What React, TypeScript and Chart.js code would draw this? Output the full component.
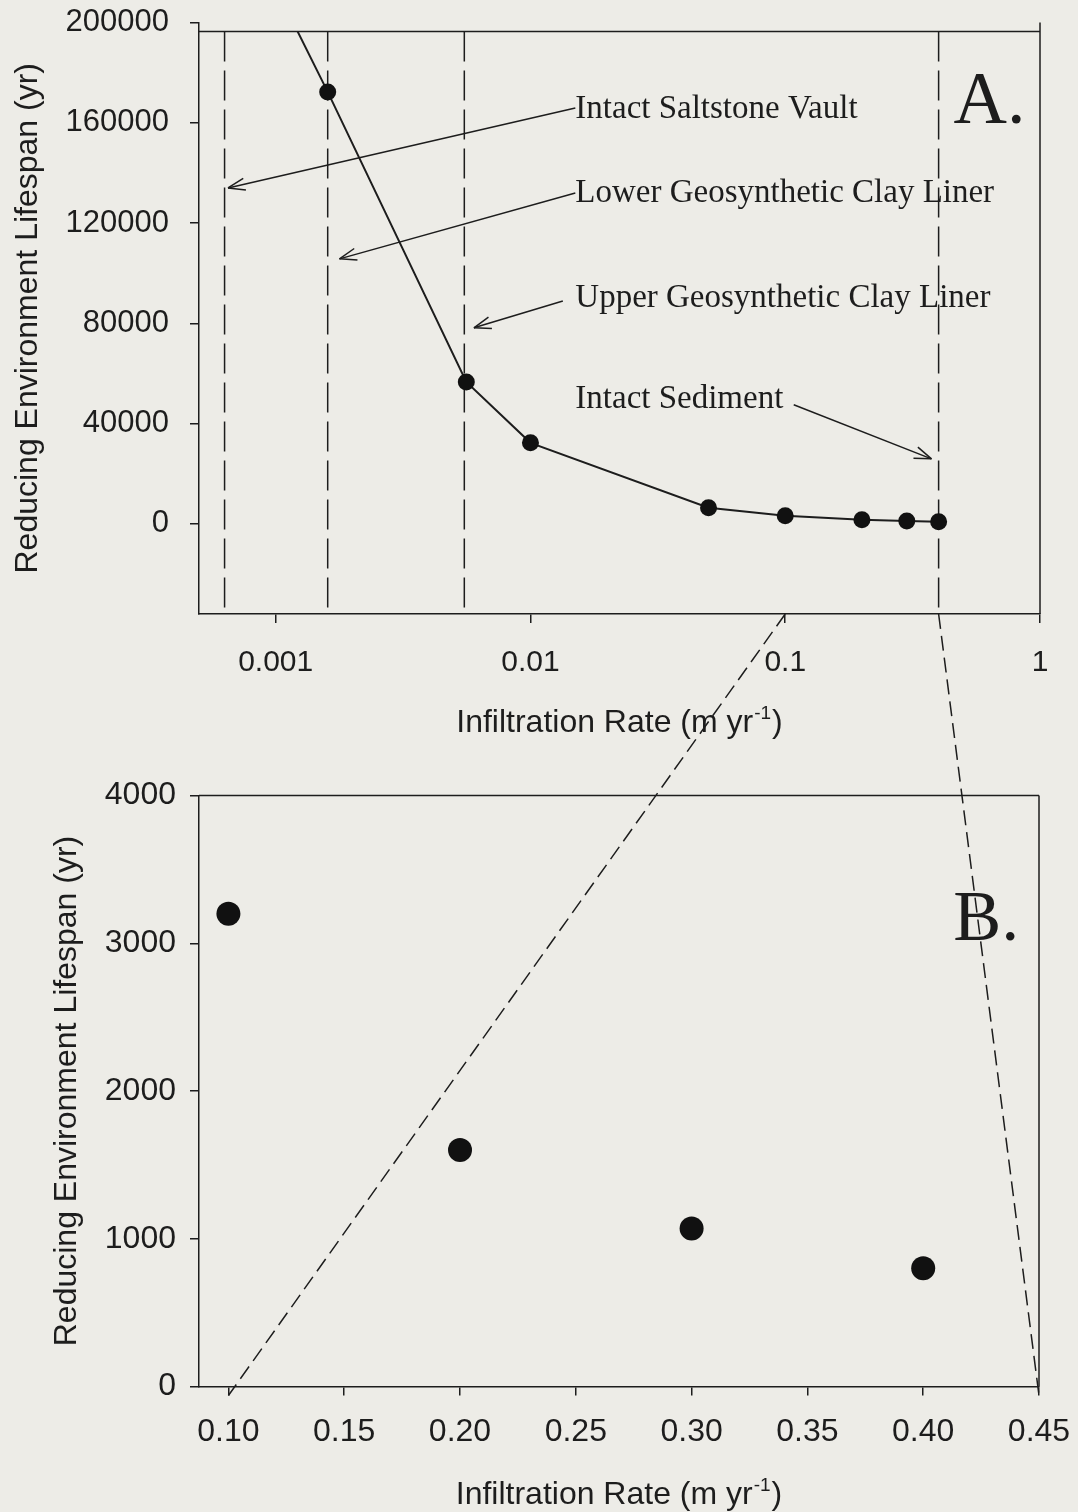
import React, { useEffect, useRef } from "react";
import { Chart, registerables } from "chart.js";

Chart.register(...registerables);

// ---------------- Panel A data (log infiltration axis) ----------------
const A_RATE = [0.00063, 0.0016, 0.0056, 0.01, 0.05, 0.1, 0.2, 0.3, 0.4];
const A_LIFESPAN = [255000, 172300, 56600, 32300, 6400, 3200, 1600, 1070, 800];
const A_X_TICKS = [0.001, 0.01, 0.1, 1];
const A_X_TICK_LABELS = ["0.001", "0.01", "0.1", "1"];
const A_Y_TICKS = [0, 40000, 80000, 120000, 160000, 200000];
const A_Y_TICK_LABELS = ["0", "40000", "80000", "120000", "160000", "200000"];
const A_BARRIER_RATES = [0.00063, 0.0016, 0.0055, 0.4];
const A_FRAME_TOP = 196400;

const A_ANNOT_LABELS = [
  "Intact Saltstone Vault",
  "Lower Geosynthetic Clay Liner",
  "Upper Geosynthetic Clay Liner",
  "Intact Sediment",
];
const A_ANNOT_TEXT_X = [0.015, 0.015, 0.015, 0.015];
const A_ANNOT_TEXT_Y = [161900, 128400, 86500, 46300];
const A_ARROW_TAIL_X = [0.015, 0.015, 0.0134, 0.108];
const A_ARROW_TAIL_Y = [165900, 132000, 88900, 47500];
const A_ARROW_HEAD_X = [0.00065, 0.00178, 0.006, 0.375];
const A_ARROW_HEAD_Y = [134000, 105700, 78200, 25900];
const A_PANEL_LABEL = "A.";
const A_PANEL_LABEL_X = 0.458;
const A_PANEL_LABEL_Y = 160000;

// ---------------- Panel B data (linear infiltration axis) ----------------
const B_RATE = [0.1, 0.2, 0.3, 0.4];
const B_LIFESPAN = [3200, 1600, 1070, 800];
const B_X_TICKS = [0.1, 0.15, 0.2, 0.25, 0.3, 0.35, 0.4, 0.45];
const B_X_TICK_LABELS = ["0.10", "0.15", "0.20", "0.25", "0.30", "0.35", "0.40", "0.45"];
const B_Y_TICKS = [0, 1000, 2000, 3000, 4000];
const B_Y_TICK_LABELS = ["0", "1000", "2000", "3000", "4000"];
const B_PANEL_LABEL = "B.";
const B_PANEL_LABEL_X = 0.413;
const B_PANEL_LABEL_Y = 3020;

// zoom connectors: A x-value -> B x-value
const ZOOM_FROM_A = [0.1, 0.4];
const ZOOM_TO_B = [0.1, 0.45];

const Y_TITLE = "Reducing Environment Lifespan (yr)";
const X_TITLE_MAIN = "Infiltration Rate (m yr";
const X_TITLE_SUP = "-1";
const X_TITLE_END = ")";

// ---------------- styles ----------------
const INK = "#1d1d1d";
const BG = "#edece7";
const SANS = "'Liberation Sans', Arial, Helvetica, sans-serif";
const SERIF = "'Liberation Serif', 'Times New Roman', serif";
const W = 1078;
const A_H = 770;
const B_TOP = 770;
const B_H = 742;
const TICK_LEN = 9;

function line(ctx: any, x1: number, y1: number, x2: number, y2: number) {
  ctx.beginPath();
  ctx.moveTo(x1, y1);
  ctx.lineTo(x2, y2);
  ctx.stroke();
}

function drawXTitle(chart: any, baselineOffset: number) {
  const { ctx, chartArea: ca } = chart;
  ctx.save();
  ctx.fillStyle = INK;
  ctx.textBaseline = "alphabetic";
  ctx.textAlign = "left";
  const mainFont = `32px ${SANS}`;
  const supFont = `19px ${SANS}`;
  ctx.font = mainFont;
  const w1 = ctx.measureText(X_TITLE_MAIN).width;
  const w3 = ctx.measureText(X_TITLE_END).width;
  ctx.font = supFont;
  const w2 = ctx.measureText(X_TITLE_SUP).width;
  const total = w1 + w2 + w3 + 2;
  const cx = (ca.left + ca.right) / 2;
  const y = ca.bottom + baselineOffset;
  let x = cx - total / 2;
  ctx.font = mainFont;
  ctx.fillText(X_TITLE_MAIN, x, y);
  x += w1 + 1;
  ctx.font = supFont;
  ctx.fillText(X_TITLE_SUP, x, y - 13);
  x += w2 + 1;
  ctx.font = mainFont;
  ctx.fillText(X_TITLE_END, x, y);
  ctx.restore();
}

function drawArrow(ctx: any, x1: number, y1: number, x2: number, y2: number) {
  line(ctx, x1, y1, x2, y2);
  const ang = Math.atan2(y2 - y1, x2 - x1);
  const len = 18;
  const spread = 0.34;
  line(ctx, x2, y2, x2 - len * Math.cos(ang - spread), y2 - len * Math.sin(ang - spread));
  line(ctx, x2, y2, x2 - len * Math.cos(ang + spread), y2 - len * Math.sin(ang + spread));
}

const frameA = {
  id: "frameA",
  beforeDatasetsDraw(chart: any) {
    const { ctx, chartArea: ca, scales } = chart;
    const top = scales.y.getPixelForValue(A_FRAME_TOP);
    ctx.save();
    ctx.strokeStyle = INK;
    ctx.lineWidth = 1.5;
    line(ctx, ca.left, top, ca.right, top);
    line(ctx, ca.right, ca.top, ca.right, ca.bottom);
    ctx.setLineDash([30, 9]);
    A_BARRIER_RATES.forEach((v) => {
      const px = scales.x.getPixelForValue(v);
      line(ctx, px, top, px, ca.bottom);
    });
    ctx.restore();
    ctx.save();
    ctx.beginPath();
    ctx.rect(ca.left - 20, top, ca.right - ca.left + 40, ca.bottom - top + 20);
    ctx.clip();
  },
  afterDatasetsDraw(chart: any) {
    const { ctx, scales } = chart;
    ctx.restore();
    ctx.save();
    ctx.fillStyle = INK;
    ctx.strokeStyle = INK;
    ctx.lineWidth = 1.5;
    ctx.font = `33px ${SERIF}`;
    ctx.textAlign = "left";
    ctx.textBaseline = "alphabetic";
    A_ANNOT_LABELS.forEach((t, i) => {
      ctx.fillText(t, scales.x.getPixelForValue(A_ANNOT_TEXT_X[i]), scales.y.getPixelForValue(A_ANNOT_TEXT_Y[i]));
      drawArrow(
        ctx,
        scales.x.getPixelForValue(A_ARROW_TAIL_X[i]),
        scales.y.getPixelForValue(A_ARROW_TAIL_Y[i]),
        scales.x.getPixelForValue(A_ARROW_HEAD_X[i]),
        scales.y.getPixelForValue(A_ARROW_HEAD_Y[i])
      );
    });
    ctx.font = `74px ${SERIF}`;
    ctx.fillText(A_PANEL_LABEL, scales.x.getPixelForValue(A_PANEL_LABEL_X), scales.y.getPixelForValue(A_PANEL_LABEL_Y));
    ctx.restore();
  },
  afterDraw(chart: any) {
    drawXTitle(chart, 118);
  },
};

const frameB = {
  id: "frameB",
  beforeDatasetsDraw(chart: any) {
    const { ctx, chartArea: ca } = chart;
    ctx.save();
    ctx.strokeStyle = INK;
    ctx.lineWidth = 1.5;
    line(ctx, ca.left, ca.top, ca.right, ca.top);
    line(ctx, ca.right, ca.top, ca.right, ca.bottom);
    ctx.restore();
  },
  afterDatasetsDraw(chart: any) {
    const { ctx, scales } = chart;
    ctx.save();
    ctx.fillStyle = INK;
    ctx.font = `72px ${SERIF}`;
    ctx.textAlign = "left";
    ctx.textBaseline = "alphabetic";
    ctx.fillText(B_PANEL_LABEL, scales.x.getPixelForValue(B_PANEL_LABEL_X), scales.y.getPixelForValue(B_PANEL_LABEL_Y));
    ctx.restore();
  },
  afterDraw(chart: any) {
    drawXTitle(chart, 117);
  },
};

function gridOpts() {
  return {
    display: true,
    drawOnChartArea: false,
    drawTicks: true,
    tickLength: TICK_LEN,
    color: INK,
    lineWidth: 1.5,
  };
}

function fitX(s: any) {
  s.height = 60;
  s.paddingLeft = 0;
  s.paddingRight = 0;
}

function fitY(s: any) {
  s.width = 199;
  s.paddingTop = 0;
  s.paddingBottom = 0;
}

export default function App() {
  const aRef = useRef<HTMLCanvasElement>(null);
  const bRef = useRef<HTMLCanvasElement>(null);
  const oRef = useRef<HTMLCanvasElement>(null);

  useEffect(() => {
    if (!aRef.current || !bRef.current || !oRef.current) return;

    const chartA = new Chart(aRef.current, {
      type: "scatter",
      data: {
        datasets: [
          {
            data: A_RATE.map((x, i) => ({ x, y: A_LIFESPAN[i] })),
            showLine: true,
            borderColor: INK,
            borderWidth: 2,
            backgroundColor: INK,
            pointBackgroundColor: "#111",
            pointBorderColor: "#111",
            pointBorderWidth: 0,
            pointRadius: 8.5,
            tension: 0,
          },
        ],
      },
      options: {
        responsive: false,
        animation: false,
        events: [],
        layout: { padding: { left: 0, right: 38, top: 22.5, bottom: 96 } },
        plugins: { legend: { display: false }, tooltip: { enabled: false } },
        scales: {
          x: {
            type: "logarithmic",
            min: 0.0005,
            max: 1,
            afterBuildTicks: (s: any) => {
              s.ticks = A_X_TICKS.map((v) => ({ value: v }));
            },
            afterFit: fitX,
            ticks: {
              callback: (_v: any, i: number) => A_X_TICK_LABELS[i],
              autoSkip: false,
              maxRotation: 0,
              padding: 22,
              color: INK,
              font: { size: 30, family: SANS },
            },
            grid: gridOpts(),
            border: { display: true, color: INK, width: 1.5 },
          },
          y: {
            type: "linear",
            min: -36000,
            max: 200000,
            afterBuildTicks: (s: any) => {
              s.ticks = A_Y_TICKS.map((v) => ({ value: v }));
            },
            afterFit: fitY,
            ticks: {
              callback: (_v: any, i: number) => A_Y_TICK_LABELS[i],
              autoSkip: false,
              padding: 21,
              color: INK,
              font: { size: 31, family: SANS },
            },
            grid: gridOpts(),
            border: { display: true, color: INK, width: 1.5 },
            title: {
              display: true,
              text: Y_TITLE,
              color: INK,
              font: { size: 32, family: SANS },
              padding: { top: 9, bottom: 0 },
            },
          },
        },
      } as any,
      plugins: [frameA],
    } as any);

    const chartB = new Chart(bRef.current, {
      type: "scatter",
      data: {
        datasets: [
          {
            data: B_RATE.map((x, i) => ({ x, y: B_LIFESPAN[i] })),
            showLine: false,
            backgroundColor: "#111",
            pointBackgroundColor: "#111",
            pointBorderColor: "#111",
            pointBorderWidth: 0,
            pointRadius: 12,
          },
        ],
      },
      options: {
        responsive: false,
        animation: false,
        events: [],
        layout: { padding: { left: 0, right: 39, top: 25.5, bottom: 65.5 } },
        plugins: { legend: { display: false }, tooltip: { enabled: false } },
        scales: {
          x: {
            type: "linear",
            min: 0.0873,
            max: 0.45,
            afterBuildTicks: (s: any) => {
              s.ticks = B_X_TICKS.map((v) => ({ value: v }));
            },
            afterFit: fitX,
            ticks: {
              callback: (_v: any, i: number) => B_X_TICK_LABELS[i],
              autoSkip: false,
              maxRotation: 0,
              padding: 17,
              color: INK,
              font: { size: 32, family: SANS },
            },
            grid: gridOpts(),
            border: { display: true, color: INK, width: 1.5 },
          },
          y: {
            type: "linear",
            min: 0,
            max: 4000,
            afterBuildTicks: (s: any) => {
              s.ticks = B_Y_TICKS.map((v) => ({ value: v }));
            },
            afterFit: fitY,
            ticks: {
              callback: (_v: any, i: number) => B_Y_TICK_LABELS[i],
              autoSkip: false,
              padding: 14,
              color: INK,
              font: { size: 32, family: SANS },
            },
            grid: gridOpts(),
            border: { display: true, color: INK, width: 1.5 },
            title: {
              display: true,
              text: Y_TITLE,
              color: INK,
              font: { size: 32, family: SANS },
              padding: { top: 48, bottom: 0 },
            },
          },
        },
      } as any,
      plugins: [frameB],
    } as any);

    // zoom connectors across both panels, positioned from the two charts' scales
    const octx = oRef.current.getContext("2d")!;
    octx.clearRect(0, 0, W, A_H + B_H);
    octx.strokeStyle = INK;
    octx.lineWidth = 1.5;
    octx.setLineDash([15, 7]);
    ZOOM_FROM_A.forEach((va, i) => {
      const xa = (chartA as any).scales.x.getPixelForValue(va);
      const ya = chartA.chartArea.bottom;
      const xb = (chartB as any).scales.x.getPixelForValue(ZOOM_TO_B[i]);
      const yb = B_TOP + chartB.chartArea.bottom + TICK_LEN;
      line(octx, xa, ya, xb, yb);
    });

    return () => {
      chartA.destroy();
      chartB.destroy();
    };
  }, []);

  return (
    <div
      style={{
        position: "absolute",
        left: 0,
        top: 0,
        width: W,
        height: A_H + B_H,
        background: BG,
        overflow: "hidden",
      }}
    >
      <canvas ref={aRef} width={W} height={A_H} style={{ position: "absolute", left: 0, top: 0 }} />
      <canvas ref={bRef} width={W} height={B_H} style={{ position: "absolute", left: 0, top: B_TOP }} />
      <canvas
        ref={oRef}
        width={W}
        height={A_H + B_H}
        style={{ position: "absolute", left: 0, top: 0, pointerEvents: "none" }}
      />
    </div>
  );
}
